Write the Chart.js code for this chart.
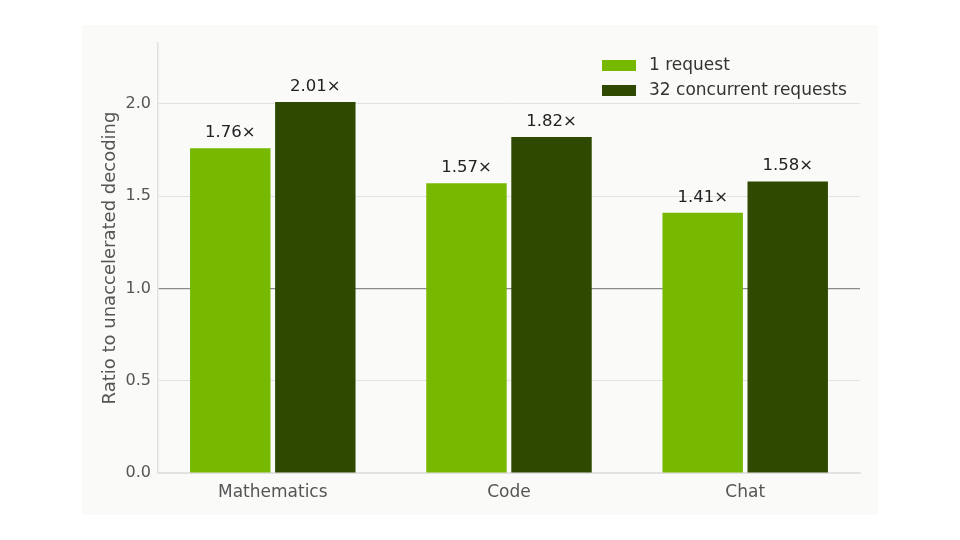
<!DOCTYPE html>
<html>
<head>
<meta charset="utf-8">
<script src="https://cdn.jsdelivr.net/npm/chart.js@4/dist/chart.umd.min.js"></script>
<style>
    body { margin: 0; background: #ffffff; }
    #panel { position: absolute; left: 82px; top: 25px; width: 796px; height: 490px; background: #fafaf8; }
    #speedup { display: block; }
</style>
</head>
<body>
<div id="panel"><canvas id="speedup" width="796" height="490"></canvas></div>
<script>
const categories = ['Mathematics', 'Code', 'Chat'];
const singleRequest = [1.76, 1.57, 1.41];
const concurrentRequests = [2.01, 1.82, 1.58];
const seriesNames = ['1 request', '32 concurrent requests'];
const yTicks = [0, 0.5, 1.0, 1.5, 2.0];

const FONT = "'DejaVu Sans', sans-serif";

// value labels like "1.76×" above each bar
const barLabels = {
    id: 'barLabels',
    afterDatasetsDraw(chart) {
        const ctx = chart.ctx;
        ctx.save();
        ctx.font = '16.5px ' + FONT;
        ctx.fillStyle = '#222222';
        ctx.textAlign = 'center';
        ctx.textBaseline = 'alphabetic';
        chart.data.datasets.forEach((ds, i) => {
            chart.getDatasetMeta(i).data.forEach((bar, j) => {
                ctx.fillText(ds.data[j].y.toFixed(2) + '\u00d7', bar.x, bar.y - 11);
            });
        });
        ctx.restore();
    }
};

// legend in the top right corner of the plot
const cornerLegend = {
    id: 'cornerLegend',
    afterDraw(chart) {
        const ctx = chart.ctx;
        const area = chart.chartArea;
        const x = area.right - 258;
        ctx.save();
        ctx.font = '17px ' + FONT;
        ctx.textBaseline = 'middle';
        chart.data.datasets.forEach((ds, i) => {
            const y = area.top + 22 + i * 25;
            ctx.fillStyle = ds.backgroundColor;
            ctx.fillRect(x, y - 5, 34, 11);
            ctx.fillStyle = '#333333';
            ctx.fillText(ds.label, x + 47, y + 1);
        });
        ctx.restore();
    }
};

const toPoints = values => values.map((v, i) => ({ x: i, y: v }));

new Chart(document.getElementById('speedup').getContext('2d'), {
    type: 'bar',
    data: {
        datasets: [{
            label: seriesNames[0],
            data: toPoints(singleRequest),
            backgroundColor: '#76b900',
            categoryPercentage: 0.72,
            barPercentage: 0.946
        }, {
            label: seriesNames[1],
            data: toPoints(concurrentRequests),
            backgroundColor: '#2f4a00',
            categoryPercentage: 0.72,
            barPercentage: 0.946
        }]
    },
    options: {
        responsive: false,
        animation: false,
        layout: { padding: { top: 18, right: 18, left: 0, bottom: 0 } },
        plugins: {
            legend: { display: false },
            tooltip: { enabled: false }
        },
        scales: {
            x: {
                type: 'linear',
                min: -0.486,
                max: 2.486,
                offset: false,
                afterBuildTicks(scale) { scale.ticks = categories.map((c, i) => ({ value: i })); },
                grid: { display: false, offset: false },
                border: { display: true, color: '#e2e2e2', width: 1.5 },
                ticks: {
                    color: '#555555',
                    font: { family: FONT, size: 17 },
                    padding: 1,
                    callback: v => categories[v]
                },
                afterFit(scale) { scale.height = 42; }
            },
            y: {
                min: 0,
                max: 2.33,
                afterBuildTicks(scale) { scale.ticks = yTicks.map(v => ({ value: v })); },
                grid: {
                    drawTicks: false,
                    color: ctx => ctx.tick && ctx.tick.value === 1 ? '#8a8a8a' : '#e2e2e2',
                    lineWidth: ctx => ctx.tick && ctx.tick.value === 1 ? 1.3 : 1
                },
                border: { display: true, color: '#e2e2e2', width: 1.5 },
                ticks: {
                    color: '#555555',
                    font: { family: FONT, size: 16 },
                    padding: 7,
                    callback: v => v.toFixed(1)
                },
                title: {
                    display: true,
                    text: 'Ratio to unaccelerated decoding',
                    color: '#555555',
                    font: { family: FONT, size: 18 },
                    padding: { top: 18, bottom: 0 }
                },
                afterFit(scale) { scale.width = 76; }
            }
        }
    },
    plugins: [barLabels, cornerLegend]
});
</script>
</body>
</html>
